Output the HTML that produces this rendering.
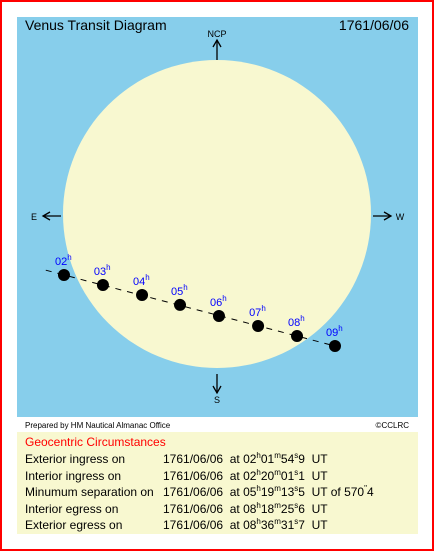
<!DOCTYPE html>
<html><head><meta charset="utf-8"><style>
body{margin:0;width:434px;height:551px;overflow:hidden;background:#fff;font-family:"Liberation Sans",sans-serif}
#frame{position:absolute;left:0;top:0;width:430px;height:547px;border:2px solid #f00}
.t{position:absolute;font-size:12px;color:#000;white-space:nowrap}
sup{font-size:8px;vertical-align:5px;line-height:0}
</style></head><body>
<div id="frame"></div>
<svg width="434" height="551" style="position:absolute;left:0;top:0">
<rect x="17" y="17" width="401" height="400" fill="#87ceeb"/>
<circle id="sun" cx="217" cy="214" r="154" fill="#f8f8d0"/>
<text x="25" y="30" font-size="14" font-family="Liberation Sans">Venus Transit Diagram</text>
<text x="409" y="30" font-size="14" text-anchor="end" font-family="Liberation Sans">1761/06/06</text>
<g stroke="#000" stroke-width="1.3" fill="none">
<line x1="217" y1="60" x2="217" y2="40"/><path d="M213,47 L217,40 L221,47"/>
<line x1="43" y1="216" x2="61" y2="216"/><path d="M50,212 L43,216 L50,220"/>
<line x1="373" y1="216" x2="391" y2="216"/><path d="M384,212 L391,216 L384,220"/>
<line x1="217" y1="374" x2="217" y2="393"/><path d="M213,386 L217,393 L221,386"/>
</g>
<g font-size="9" font-family="Liberation Sans" text-anchor="middle">
<text x="217" y="37">NCP</text>
<text x="34" y="220">E</text>
<text x="400" y="220">W</text>
<text x="217" y="403">S</text>
</g>
<g id="track"></g>
<rect x="17" y="432" width="401" height="102" fill="#f8f8d0"/>
<text x="25" y="428" font-size="8" font-family="Liberation Sans">Prepared by HM Nautical Almanac Office</text>
<text x="409" y="428" font-size="8" font-family="Liberation Sans" text-anchor="end">©CCLRC</text>
</svg>
<div class="t" style="left:25px;top:435px;color:#f00">Geocentric Circumstances</div>
<div class="t" style="left:25px;top:452px">Exterior ingress on</div>
<div class="t" style="left:163px;top:452px">1761/06/06 &nbsp;at 02<sup>h</sup>01<sup>m</sup>54<sup>s</sup>9 &nbsp;UT</div>
<div class="t" style="left:25px;top:469px">Interior ingress on</div>
<div class="t" style="left:163px;top:469px">1761/06/06 &nbsp;at 02<sup>h</sup>20<sup>m</sup>01<sup>s</sup>1 &nbsp;UT</div>
<div class="t" style="left:25px;top:485px">Minumum separation on</div>
<div class="t" style="left:163px;top:485px">1761/06/06 &nbsp;at 05<sup>h</sup>19<sup>m</sup>13<sup>s</sup>5 &nbsp;UT of 570<sup>"</sup>4</div>
<div class="t" style="left:25px;top:502px">Interior egress on</div>
<div class="t" style="left:163px;top:502px">1761/06/06 &nbsp;at 08<sup>h</sup>18<sup>m</sup>25<sup>s</sup>6 &nbsp;UT</div>
<div class="t" style="left:25px;top:518px">Exterior egress on</div>
<div class="t" style="left:163px;top:518px">1761/06/06 &nbsp;at 08<sup>h</sup>36<sup>m</sup>31<sup>s</sup>7 &nbsp;UT</div>
<script>
const hourLabels = ["02","03","04","05","06","07","08","09"];
const xArcsec = [-939,-700,-460,-227,12,252,491,724];
const yArcsec = [-374,-436,-497,-558,-626,-687,-749,-810];
const sunRadiusArcsec = 945;
const NS="http://www.w3.org/2000/svg";
const cx=217, cy=214, rpx=154;
function sx(v){return cx+v*rpx/sunRadiusArcsec;}
function sy(v){return cy-v*rpx/sunRadiusArcsec;}
const g=document.getElementById('track');
const n=xArcsec.length;
const x0=sx(xArcsec[0]), y0=sy(yArcsec[0]), x1=sx(xArcsec[n-1]), y1=sy(yArcsec[n-1]);
const dx=(x1-x0)/(n-1), dy=(y1-y0)/(n-1);
const line=document.createElementNS(NS,'line');
line.setAttribute('x1',x0-dx*0.47);line.setAttribute('y1',y0-dy*0.47);
line.setAttribute('x2',x1);line.setAttribute('y2',y1);
line.setAttribute('stroke','#000');line.setAttribute('stroke-width','1');line.setAttribute('stroke-dasharray','6,6');


g.appendChild(line);
for(let i=0;i<n;i++){
  const px=sx(xArcsec[i]), py=sy(yArcsec[i]);
  const c=document.createElementNS(NS,'circle');
  c.setAttribute('cx',px);c.setAttribute('cy',py);c.setAttribute('r',6);c.setAttribute('fill','#000');
  
  
  g.appendChild(c);
  const t=document.createElementNS(NS,'text');
  t.setAttribute('x',px-9);t.setAttribute('y',py-10);
  t.setAttribute('fill','#00f');t.setAttribute('font-size','11');t.setAttribute('font-family','Liberation Sans');
  t.innerHTML=hourLabels[i]+'<tspan font-size="8" dy="-5">h</tspan>';
  
  
  g.appendChild(t);
}
</script>
</body></html>
